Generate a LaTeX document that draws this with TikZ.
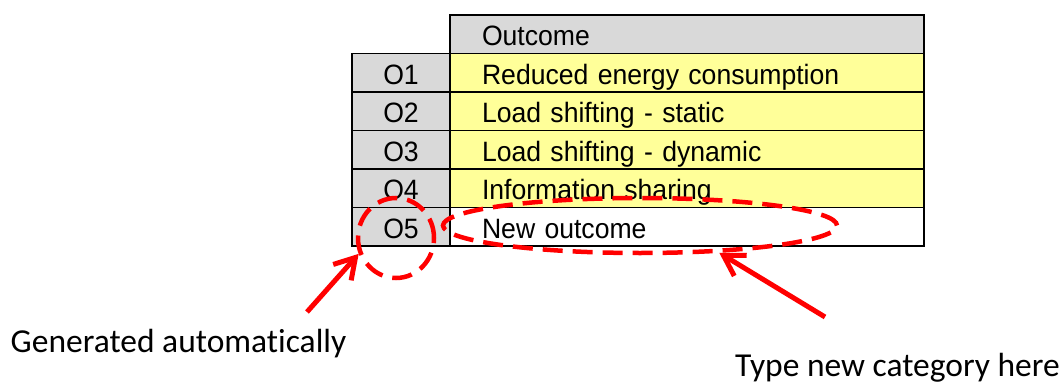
\documentclass[tikz,border=0pt]{standalone}
\usepackage{fontspec}
\setmainfont[FakeStretch=0.95]{Liberation Sans}
\newfontfamily\notefont[Ligatures=NoCommon]{Carlito}
\usetikzlibrary{shapes.geometric,arrows.meta}
\definecolor{hdrgray}{HTML}{D9D9D9}
\definecolor{rowyellow}{HTML}{FFFF99}
\definecolor{markred}{HTML}{FF0000}
\begin{document}
\begin{tikzpicture}[x=1pt,y=-1pt,
  cell/.style={draw=black, line width=1.4pt, inner sep=0pt, minimum height=38.5pt,
    font=\fontsize{28}{31}\selectfont, text height=23pt, text depth=0pt},
  idcell/.style={cell, fill=hdrgray, minimum width=98pt},
  namecell/.style={cell, fill=rowyellow, minimum width=474pt, text width=410pt, align=left},
  redloop/.style={ellipse, draw=markred, line width=4.5pt, dash pattern=on 20pt off 10pt, inner sep=0pt},
  pointer/.style={draw=markred, line width=5pt, -{Straight Barb[length=20pt,width=24pt]}},
  note/.style={font=\notefont\fontsize{33.5}{36}\selectfont, inner sep=0pt}
]
\useasboundingbox (0,0) rectangle (1064,385);

% header
\node[namecell, fill=hdrgray] (hdr) at (687,34.25) {Outcome};

% outcome rows
\node[idcell]   (id1)   at (401,72.75)  {O1};
\node[namecell] (name1) at (687,72.75)  {Reduced energy consumption};
\node[idcell]   (id2)   at (401,111.25) {O2};
\node[namecell] (name2) at (687,111.25) {Load shifting - static};
\node[idcell]   (id3)   at (401,149.75) {O3};
\node[namecell] (name3) at (687,149.75) {Load shifting - dynamic};
\node[idcell]   (id4)   at (401,188.25) {O4};
\node[namecell] (name4) at (687,188.25) {Information sharing};
\node[idcell]   (id5)   at (401,226.75) {O5};
\node[namecell, fill=white] (name5) at (687,226.75) {New outcome};

% dashed highlights
\node[redloop, minimum width=76pt, minimum height=80pt]  (autoLoop) at (396,238) {};
\node[redloop, minimum width=394pt, minimum height=55pt] (newLoop)  at (640,225.5) {};

% notes
\node[note, anchor=base west] (genTxt)  at (10.5,352.7) {Generated automatically};
\node[note, anchor=base west] (typeTxt) at (735,376.7)  {Type new category here};

\coordinate (genTail)  at (307,312);
\coordinate (typeTail) at (825,317);
\draw[pointer] (genTail)  -- (autoLoop.203);
\draw[pointer] (typeTail) -- (newLoop.341);
\end{tikzpicture}
\end{document}
